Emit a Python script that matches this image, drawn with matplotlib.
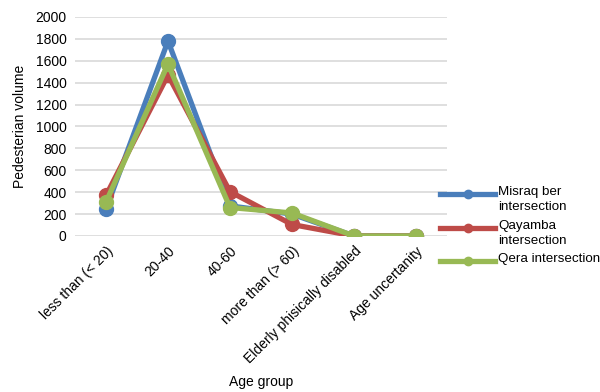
import matplotlib
matplotlib.use('Agg')
matplotlib.rc('font', family=['Liberation Sans', 'DejaVu Sans'], size=10)
import matplotlib.pyplot as plt
from matplotlib.lines import Line2D

age_groups = ['less than (< 20)', '20-40', '40-60', 'more than (> 60)',
              'Elderly phisically disabled', 'Age uncertanity']
misraq = [245, 1780, 275, 200, 0, 0]
qayamba = [370, 1470, 405, 105, 0, 0]
qera = [310, 1570, 260, 210, 0, 0]

series = [
    ('Misraq ber\nintersection', misraq, '#4a7ebb'),
    ('Qayamba\nintersection', qayamba, '#be4b48'),
    ('Qera intersection', qera, '#98b954'),
]

W, H = 600, 392
fig = plt.figure(figsize=(W / 100, H / 100), dpi=100)
ax = fig.add_axes([0.125, 0.398, 0.62, 0.5587])

x = list(range(len(age_groups)))
for label, vals, col in series:
    ax.plot(x, vals, color=col, lw=3.8, marker='o', ms=10,
            label=label, solid_joinstyle='round')

ax.set_xlim(-0.5, len(age_groups) - 0.5)
ax.set_ylim(0, 2000)
ax.set_yticks(range(0, 2001, 200))
ax.set_xticks(x)
ax.set_xticklabels(age_groups, rotation=45, ha='right', rotation_mode='anchor')
ax.tick_params(length=0, labelsize=10, pad=6)
ax.grid(axis='y', color='#d9d9d9', lw=1.2)
ax.set_axisbelow(True)
for s in ax.spines.values():
    s.set_visible(False)

ax.set_ylabel('Pedesterian volume', fontsize=10, labelpad=6)
fig.text(0.435, 0.015, 'Age group', ha='center', fontsize=10)

# legend entries: handle lined up with the first line of each label
for i, (label, _, col) in enumerate(series):
    yp = 1 - (194 + 33.5 * i) / H
    fig.add_artist(Line2D([440 / W, 495 / W], [yp, yp], color=col, lw=3.8,
                          transform=fig.transFigure))
    fig.add_artist(Line2D([467.5 / W], [yp], color=col, marker='o', ms=6,
                          transform=fig.transFigure))
    fig.text(498 / W, yp + 8 / H, label, ha='left', va='top', fontsize=9.6,
             linespacing=1.35)

fig.savefig('out.png', dpi=100)
